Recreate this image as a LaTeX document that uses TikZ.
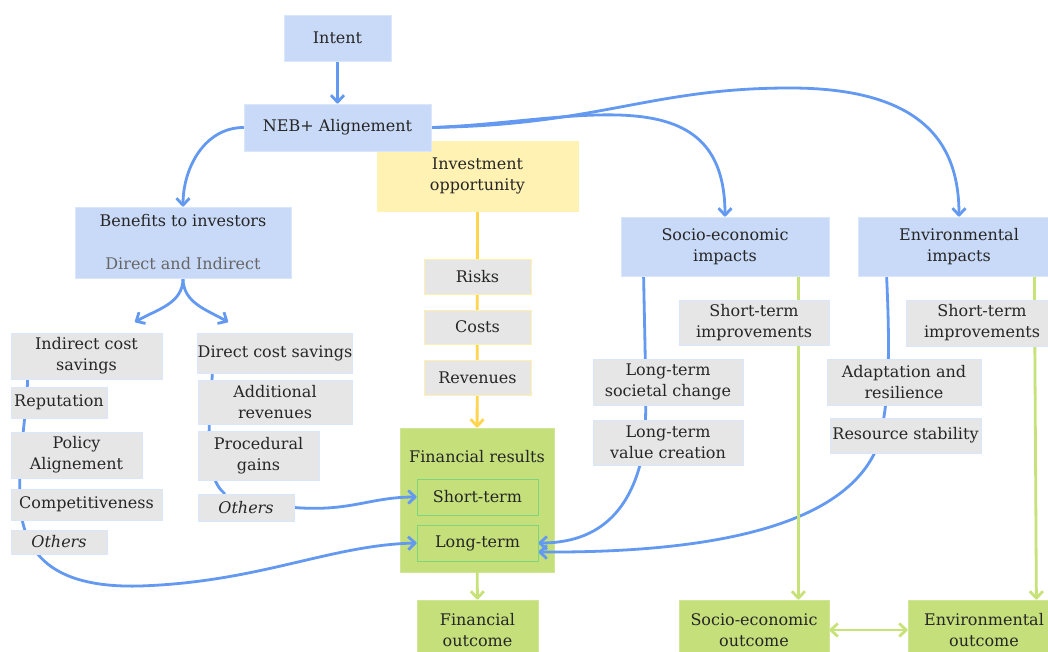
\documentclass[tikz,border=0pt]{standalone}
\usepackage{fontspec}
\setmainfont{DejaVu Serif}
\usetikzlibrary{arrows.meta,backgrounds}

\definecolor{boxblue}{HTML}{C9DAF8}
\definecolor{edgeblue}{HTML}{D9E6FB}
\definecolor{boxyellow}{HTML}{FFF2B3}
\definecolor{edgeyellow}{HTML}{FFF0B0}
\definecolor{boxgreen}{HTML}{C5E07B}
\definecolor{innergreen}{HTML}{7DD67D}
\definecolor{itemgray}{HTML}{E6E6E6}
\definecolor{linkblue}{HTML}{6399F0}
\definecolor{linkgreen}{HTML}{C8E27A}
\definecolor{linkyellow}{HTML}{FFD54F}
\definecolor{txtdark}{HTML}{262626}
\definecolor{subgray}{HTML}{666666}

\begin{document}
\begin{tikzpicture}[x=1pt, y=-1pt,
	every node/.style={font=\fontsize{16}{21}\selectfont, text=txtdark, align=center, inner sep=0pt},
	bbox/.style={fill=boxblue, draw=edgeblue, line width=0.8pt},
	ybox/.style={fill=boxyellow, draw=boxyellow},
	gbox/.style={fill=boxgreen, draw=boxgreen!80!white, line width=0.8pt},
	item/.style={fill=itemgray, draw=edgeblue, line width=0.8pt},
	yitem/.style={fill=itemgray, draw=edgeyellow, line width=0.8pt},
	term/.style={fill=boxgreen, draw=innergreen, line width=0.8pt},
	blink/.style={draw=linkblue, line width=2.8pt, line cap=round},
	glink/.style={draw=linkgreen, line width=2.8pt, line cap=round},
	ylink/.style={draw=linkyellow, line width=2.8pt, line cap=round},
	>={Straight Barb[length=7pt, width=13pt, line join=round]}]
	\useasboundingbox (0,0) rectangle (1048,652);

	% top of the chart
	\node[ybox, minimum width=201, minimum height=70] (invest) at (477.5,176) {Investment\\opportunity};
	\node[bbox, minimum width=107, minimum height=46] (intent) at (337.5,38) {Intent};
	\node[bbox, minimum width=187, minimum height=47] (neb) at (337.5,127.5) {NEB+ Alignement};
	\node[bbox, minimum width=216, minimum height=71] (ben) at (183,242.5) {Benefits to investors\\[22pt]\textcolor{subgray}{Direct and Indirect}};
	\node[bbox, minimum width=208, minimum height=59] (soc) at (725,246.5) {Socio-economic\\impacts};
	\node[bbox, minimum width=202, minimum height=59] (env) at (959,246.5) {Environmental\\impacts};
	\coordinate (bl) at (135,322);
	\coordinate (br) at (228,322);

	% benefits, indirect and direct
	\node[item, minimum width=151, minimum height=46] (ind) at (86.5,356) {Indirect cost\\savings};
	\node[item, minimum width=96, minimum height=31] (rep) at (59,402.5) {Reputation};
	\node[item, minimum width=131, minimum height=46] (pol) at (76.5,455) {Policy\\Alignement};
	\node[item, minimum width=151, minimum height=31] (comp) at (86.5,504.5) {Competitiveness};
	\node[item, minimum width=96, minimum height=24] (othi) at (59,542) {\itshape Others};
	\node[item, minimum width=154, minimum height=40] (dcs) at (275,353) {Direct cost savings};
	\node[item, minimum width=154, minimum height=44] (add) at (275,402) {Additional\\revenues};
	\node[item, minimum width=121, minimum height=49] (proc) at (258.5,455.5) {Procedural\\gains};
	\node[item, minimum width=96, minimum height=27] (othd) at (246,507.5) {\itshape Others};

	% financial column
	\node[yitem, minimum width=107, minimum height=35] (risks) at (477.5,276.5) {Risks};
	\node[yitem, minimum width=107, minimum height=34] (costs) at (477.5,327) {Costs};
	\node[yitem, minimum width=107, minimum height=35] (rev) at (477.5,377.5) {Revenues};
	\node[term, minimum width=121, minimum height=36] (st) at (477.5,497) {Short-term};
	\node[term, minimum width=121, minimum height=36] (lt) at (477.5,543) {Long-term};
	\node[gbox, minimum width=121, minimum height=60] (finout) at (477.5,630) {Financial\\outcome};

	% impacts
	\node[item, minimum width=150, minimum height=45] (stsoc) at (754,322.5) {Short-term\\improvements};
	\node[item, minimum width=150, minimum height=46] (ltsc) at (668,382) {Long-term\\societal change};
	\node[item, minimum width=150, minimum height=45] (ltvc) at (668,442.5) {Long-term\\value creation};
	\node[gbox, minimum width=150, minimum height=60] (socout) at (754,630) {Socio-economic\\outcome};
	\node[item, minimum width=152, minimum height=46] (stenv) at (982,323) {Short-term\\improvements};
	\node[item, minimum width=154, minimum height=46] (adapt) at (904,382) {Adaptation and\\resilience};
	\node[item, minimum width=151, minimum height=35] (res) at (905.5,435.5) {Resource stability};
	\node[gbox, minimum width=152, minimum height=60] (envout) at (984,630) {Environmental\\outcome};

	\begin{pgfonlayer}{background}
		\fill[white] (0,0) rectangle (1048,652);
		\node[gbox, minimum width=154, minimum height=144, label={[anchor=center, yshift=-29pt]north:Financial results}] (finres) at (477,500) {};
		\draw[blink, ->] (intent) -- (neb);
		\draw[blink, ->] (neb.west) to[out=180, in=90] (ben.north);
		\draw[blink, ->] (neb.east) to[out=2, in=90, looseness=1.2] (soc.north);
		\draw[blink, ->] (neb.east) .. controls (600,125) and (650,88) .. (790,88) .. controls (930,88) and (959,150) .. (env.north);
		\draw[blink, ->] (ben.south) to[out=-90, in=30] (bl);
		\draw[blink, ->] (ben.south) to[out=-90, in=150] (br);
		% lines behind the lists
		\draw[blink, ->] ([xshift=17pt]ind.south west) .. controls (27,410) and (18,460) .. (20,500) .. controls (22,560) and (60,588) .. (140,586) .. controls (260,582) and (330,545) .. (lt.west);
		\draw[blink] ([xshift=15pt]dcs.south west) .. controls (210,420) and (202,475) .. ([xshift=27pt]othd.north west);
		\draw[blink, ->] (othd.east) .. controls (350,512) and (370,497) .. (st.west);
		\draw[blink, ->] ([xshift=23pt]soc.south west) .. controls (646,400) and (648,440) .. (640,465) .. controls (625,520) and (590,543) .. (lt.east);
		\draw[blink, ->] ([xshift=29pt]env.south west) .. controls (890,350) and (890,410) .. (876,450) .. controls (840,530) and (700,553) .. ([yshift=-9pt]lt.east);
		\draw[ylink, ->] (invest) -- (finres);
		\draw[glink, ->] (finres) -- (finout);
		\draw[glink, ->] ([xshift=-31pt]soc.south east) -- ([xshift=-31pt]socout.north east);
		\draw[glink, ->] ([xshift=-26pt]env.south east) -- ([xshift=-24pt]envout.north east);
		\draw[glink, <->] (socout) -- (envout);
	\end{pgfonlayer}
\end{tikzpicture}
\end{document}
